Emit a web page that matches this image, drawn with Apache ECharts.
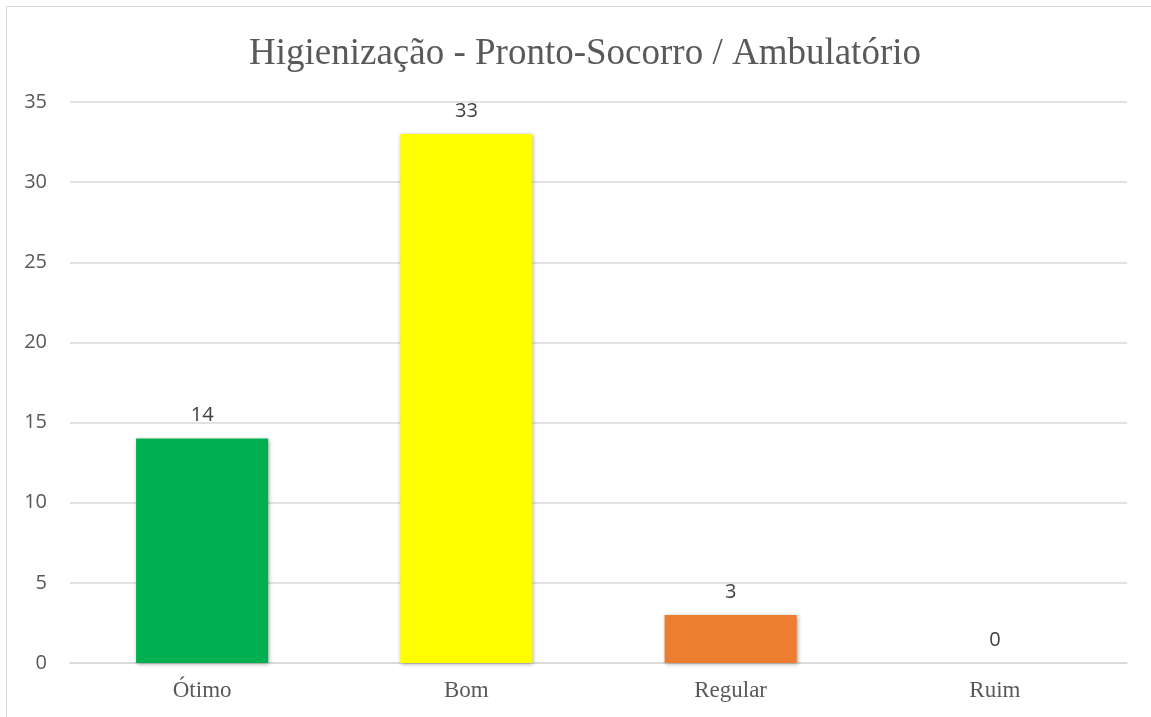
<!DOCTYPE html>
<html>
<head>
<meta charset="utf-8">
<script src="https://cdn.jsdelivr.net/npm/echarts@6/dist/echarts.min.js"></script>
<style>
html,body{margin:0;padding:0;background:#fff;}
#frame{position:absolute;left:6px;top:6px;width:1150px;height:716px;border:1.5px solid #d9d9d9;box-sizing:border-box;}
#chart{position:absolute;left:0;top:0;width:1151px;height:717px;}
</style>
</head>
<body>
<div id="frame"></div>
<div id="chart"></div>
<script>
const titleText = 'Higienização - Pronto-Socorro / Ambulatório';
const categories = ['Ótimo', 'Bom', 'Regular', 'Ruim'];
const values = [14, 33, 3, 0];
const barColors = ['#00B050', '#FFFF00', '#ED7D31', '#5B9BD5'];

const chart = echarts.init(document.getElementById('chart'), null, {renderer: 'canvas'});
chart.setOption({
  backgroundColor: 'transparent',
  animation: false,
  title: {
    text: titleText,
    left: 580, textAlign: 'center', top: 31,
    textStyle: {fontFamily: '"Liberation Serif", "Times New Roman", serif', fontSize: 37, fontWeight: 'normal', color: '#595959'}
  },
  grid: {left: 70, right: 24, top: 102, bottom: 54, containLabel: false},
  xAxis: {
    type: 'category',
    data: categories,
    axisLine: {show: true, lineStyle: {color: '#d9d9d9', width: 1.5}},
    axisTick: {show: false},
    axisLabel: {fontFamily: '"Liberation Serif", "Times New Roman", serif', fontSize: 23, color: '#595959', margin: 16}
  },
  yAxis: {
    type: 'value',
    min: 0, max: 35, interval: 5,
    axisLine: {show: false},
    axisTick: {show: false},
    splitLine: {lineStyle: {color: '#d9d9d9', width: 1.5}},
    axisLabel: {fontFamily: '"Open Sans", sans-serif', fontSize: 20, color: '#595959', margin: 23}
  },
  series: [{
    type: 'bar',
    data: values.map((v, i) => ({value: v, itemStyle: {color: barColors[i]}})),
    barWidth: '50%',
    itemStyle: {shadowColor: 'rgba(0,0,0,0.35)', shadowBlur: 4, shadowOffsetX: 1, shadowOffsetY: 1},
    label: {show: true, position: 'top', distance: 13, fontFamily: '"Open Sans", sans-serif', fontSize: 20, color: '#404040'}
  }]
});
</script>
</body>
</html>
